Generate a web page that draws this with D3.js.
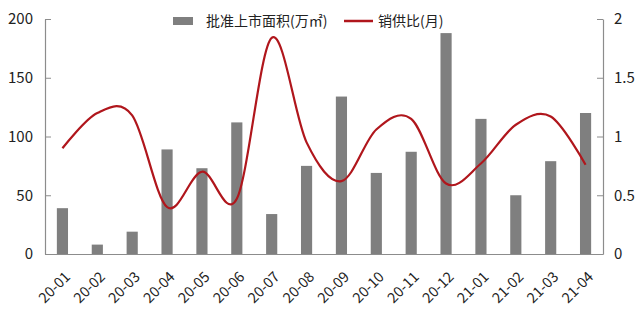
<!DOCTYPE html>
<html>
<head>
<meta charset="utf-8">
<script src="https://cdn.jsdelivr.net/npm/d3@7"></script>
<style>
  body { margin: 0; background: #fff; }
  svg { display: block; font-family: "Noto Sans CJK SC", "Noto Sans", sans-serif; }
</style>
</head>
<body>
<svg id="chart" width="640" height="312"></svg>
<script>
const months = ['20-01', '20-02', '20-03', '20-04', '20-05', '20-06', '20-07', '20-08',
                '20-09', '20-10', '20-11', '20-12', '21-01', '21-02', '21-03', '21-04'];
const approvedArea = [39, 8, 19, 89, 73, 112, 34, 75, 134, 69, 87, 188, 115, 50, 79, 120];
const salesRatio = [0.9, 1.2, 1.18, 0.4, 0.7, 0.47, 1.84, 0.95, 0.62, 1.06, 1.15, 0.6, 0.77, 1.1, 1.17, 0.76];
const leftTicks = [0, 50, 100, 150, 200];
const rightTicks = [0, 0.5, 1, 1.5, 2];
const barName = '批准上市面积(万㎡)';
const lineName = '销供比(月)';

const width = 640, height = 312;
const margin = { top: 19, right: 37, bottom: 58, left: 45 };
const svg = d3.select('#chart');

const x = d3.scaleBand()
    .domain(months)
    .range([margin.left, width - margin.right])
    .paddingInner(0.68)
    .paddingOuter(0.34);
const yLeft = d3.scaleLinear().domain([0, 200]).range([height - margin.bottom, margin.top]);
const yRight = d3.scaleLinear().domain([0, 2]).range([height - margin.bottom, margin.top]);

const axisColor = '#8c8c8c';
const fontFamily = '"Noto Sans CJK SC", "Noto Sans", sans-serif';

// bars
svg.append('g')
    .selectAll('rect')
    .data(approvedArea)
    .enter()
    .append('rect')
    .attr('x', (d, i) => x(months[i]))
    .attr('y', d => yLeft(d))
    .attr('width', x.bandwidth())
    .attr('height', d => yLeft(0) - yLeft(d))
    .attr('fill', '#7f7f7f');

// line
const line = d3.line()
    .x((d, i) => x(months[i]) + x.bandwidth() / 2)
    .y(d => yRight(d))
    .curve(d3.curveCardinal.tension(0));
svg.append('path')
    .datum(salesRatio)
    .attr('d', line)
    .attr('fill', 'none')
    .attr('stroke', '#b0161c')
    .attr('stroke-width', 2.2);

// left axis
const gLeft = svg.append('g')
    .attr('transform', 'translate(' + margin.left + ',0)')
    .call(d3.axisRight(yLeft).tickValues(leftTicks).tickSize(6).tickSizeOuter(0))
    .attr('font-family', fontFamily);
gLeft.selectAll('text')
    .attr('x', -12)
    .attr('text-anchor', 'end')
    .attr('font-size', 15)
    .attr('fill', '#222');

// right axis
const gRight = svg.append('g')
    .attr('transform', 'translate(' + (width - margin.right) + ',0)')
    .call(d3.axisLeft(yRight).tickValues(rightTicks).tickFormat(d => String(d)).tickSize(6).tickSizeOuter(0))
    .attr('font-family', fontFamily);
gRight.selectAll('text')
    .attr('x', 11)
    .attr('text-anchor', 'start')
    .attr('font-size', 15)
    .attr('fill', '#222');

// bottom axis
const gBottom = svg.append('g')
    .attr('transform', 'translate(0,' + (height - margin.bottom) + ')')
    .call(d3.axisBottom(x).tickSize(0).tickSizeOuter(0))
    .attr('font-family', fontFamily);
gBottom.selectAll('text')
    .attr('font-size', 14.5)
    .attr('fill', '#222')
    .attr('text-anchor', 'end')
    .attr('dy', '0.35em')
    .attr('transform', 'translate(3,18) rotate(-45)');

svg.selectAll('.domain, .tick line').attr('stroke', axisColor);
svg.selectAll('.domain').attr('stroke-width', 1.2);

// legend
const legend = svg.append('g');
legend.append('rect')
    .attr('x', 173).attr('y', 17)
    .attr('width', 20).attr('height', 8)
    .attr('fill', '#7f7f7f');
legend.append('text')
    .attr('x', 206).attr('y', 21)
    .attr('dy', '0.35em')
    .attr('font-size', 14)
    .attr('fill', '#222')
    .text(barName);
legend.append('line')
    .attr('x1', 344).attr('x2', 373)
    .attr('y1', 21).attr('y2', 21)
    .attr('stroke', '#b0161c')
    .attr('stroke-width', 2.5);
legend.append('text')
    .attr('x', 378).attr('y', 21)
    .attr('dy', '0.35em')
    .attr('font-size', 14)
    .attr('fill', '#222')
    .text(lineName);
</script>
</body>
</html>
